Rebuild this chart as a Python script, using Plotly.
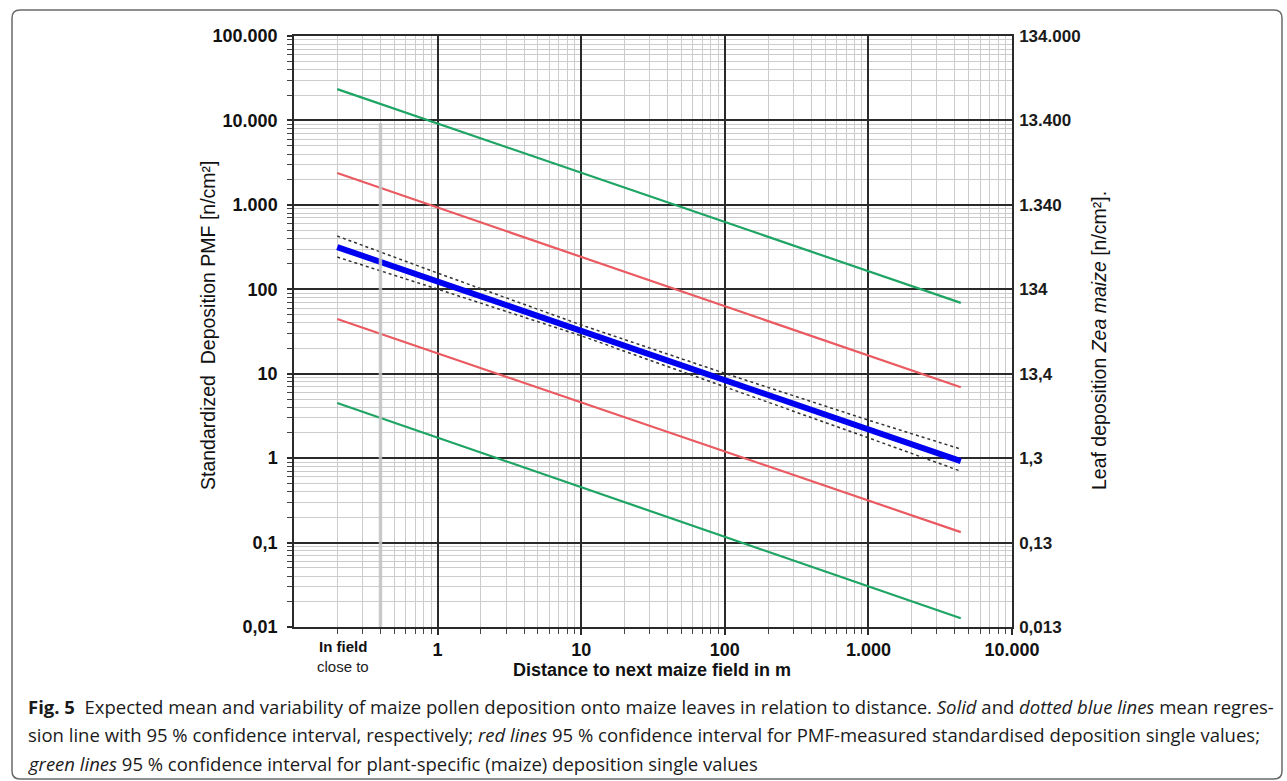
import plotly.graph_objects as go

# ---------------- data ----------------
x_ends = [0.2, 4400]                      # start / end distance of the lines (m)
green_upper = [23500, 69]
red_upper = [2380, 6.9]
mean_line = [316, 0.92]
red_lower = [44.4, 0.133]
green_lower = [4.5, 0.0127]

ci_x = [0.2, 1, 10, 100, 1000, 4400]
ci_upper = [427, 155.6, 37.8, 10.1, 2.82, 1.28]
ci_lower = [241, 100.5, 28.1, 7.06, 1.74, 0.70]

infield_x = [0.4, 0.4]
infield_y = [0.01, 9300]

x_tickvals = [1, 10, 100, 1000, 10000]
x_ticktext = ["1", "10", "100", "1.000", "10.000"]
y_tickvals = [0.01, 0.1, 1, 10, 100, 1000, 10000, 100000]
y_ticktext_left = ["0,01", "0,1", "1", "10", "100", "1.000", "10.000", "100.000"]
y_ticktext_right = ["0,013", "0,13", "1,3", "13,4", "134", "1.340", "13.400", "134.000"]

caption_lines = [
    "<b>Fig. 5</b>  Expected mean and variability of maize pollen deposition onto maize leaves in relation to distance. "
    "<i>Solid</i> and <i>dotted blue lines</i> mean regres-",
    "sion line with 95 % confidence interval, respectively; <i>red lines</i> 95 % confidence interval for PMF-measured "
    "standardised deposition single values;",
    "<i>green lines</i> 95 % confidence interval for plant-specific (maize) deposition single values",
]

# ---------------- layout helpers ----------------
W, H = 1287, 781
L, R, T, B = 294, 1012, 36, 627


def px(p):
    return (p - L) / (R - L)


def py(p):
    return (B - p) / (B - T)


x_minor = [k * d for d in [0.1, 1, 10, 100, 1000] for k in range(2, 10)]
y_minor = [k * d for d in [0.01, 0.1, 1, 10, 100, 1000, 10000] for k in range(2, 10)]

GREEN = "#1ea463"
RED = "#ea5a60"
BLUE = "#0000f0"
MAJ = "#2a2a2a"
MIN = "#cccccc"
FONT = "Liberation Sans, Arial, sans-serif"

fig = go.Figure()
for yv, col in [(green_upper, GREEN), (red_upper, RED), (red_lower, RED), (green_lower, GREEN)]:
    fig.add_trace(go.Scatter(x=x_ends, y=yv, mode="lines", line=dict(color=col, width=2.2),
                             showlegend=False, hoverinfo="skip"))
fig.add_trace(go.Scatter(x=ci_x, y=ci_upper, mode="lines", line=dict(color="#333333", width=1.5, dash="dot"),
                         showlegend=False, hoverinfo="skip"))
fig.add_trace(go.Scatter(x=ci_x, y=ci_lower, mode="lines", line=dict(color="#333333", width=1.5, dash="dot"),
                         showlegend=False, hoverinfo="skip"))
fig.add_trace(go.Scatter(x=x_ends, y=mean_line, mode="lines", line=dict(color=BLUE, width=6),
                         showlegend=False, hoverinfo="skip"))
fig.add_trace(go.Scatter(x=infield_x, y=infield_y, mode="lines", line=dict(color="#c4c4c4", width=3.5),
                         opacity=0.85, showlegend=False, hoverinfo="skip"))
# invisible trace so the right axis is bound to data
fig.add_trace(go.Scatter(x=[1], y=[1], yaxis="y2", mode="markers", marker=dict(opacity=0),
                         showlegend=False, hoverinfo="skip"))

fig.update_layout(
    width=W, height=H,
    margin=dict(l=L, r=W - R, t=T, b=H - B),
    paper_bgcolor="white", plot_bgcolor="white",
    font=dict(family=FONT, color="#111111"),
    xaxis=dict(
        type="log", range=[-1, 4], tickmode="array", tickvals=x_tickvals, ticktext=x_ticktext,
        tickfont=dict(size=18, family=FONT, weight="bold", color="#111111"),
        showgrid=True, gridcolor=MAJ, gridwidth=1.5,
        showline=True, linecolor=MAJ, linewidth=1.5, mirror=True,
        ticks="outside", ticklen=6, tickcolor=MAJ, tickwidth=1.5, ticklabelstandoff=0,
        minor=dict(tickmode="array", tickvals=x_minor, showgrid=True, gridcolor=MIN, gridwidth=1,
                   ticks="outside", ticklen=5, tickcolor="#444444", tickwidth=1),
        zeroline=False, layer="below traces",
    ),
    yaxis=dict(
        type="log", range=[-2, 5], tickmode="array", tickvals=y_tickvals, ticktext=y_ticktext_left,
        tickfont=dict(size=18, family=FONT, weight="bold", color="#111111"),
        showgrid=True, gridcolor=MAJ, gridwidth=1.5,
        showline=True, linecolor=MAJ, linewidth=1.5,
        ticks="outside", ticklen=5, tickcolor=MAJ, tickwidth=1.5, ticklabelstandoff=6,
        minor=dict(tickmode="array", tickvals=y_minor, showgrid=True, gridcolor=MIN, gridwidth=1,
                   ticks="outside", ticklen=5, tickcolor="#444444", tickwidth=1),
        zeroline=False, layer="below traces",
    ),
    yaxis2=dict(
        type="log", range=[-2, 5], overlaying="y", side="right", anchor="x",
        tickmode="array", tickvals=y_tickvals, ticktext=y_ticktext_right,
        tickfont=dict(size=17, family=FONT, weight="bold", color="#1a1a1a"),
        showgrid=False, showline=True, linecolor=MAJ, linewidth=1.5, ticks="", ticklabelstandoff=2,
        zeroline=False,
    ),
)

ann = []


def add_text(x, y, text, size, family=FONT, angle=0, xa="center", color="#111111"):
    ann.append(dict(x=px(x), y=py(y), xref="paper", yref="paper", showarrow=False, textangle=angle,
                    xanchor=xa, yanchor="middle", align="left" if xa == "left" else "center",
                    text=text, font=dict(size=size, family=family, color=color)))


# axis titles
add_text(652, 670, "<b>Distance to next maize field in m</b>", 18)
add_text(208, 326, "Standardized  Deposition PMF [n/cm²]", 19.5, angle=-90)
add_text(1099, 341, "Leaf deposition <i>Zea maize</i> [n/cm²].", 19.5, angle=-90)
# "In field / close to"
add_text(343, 646, "<b>In field</b>", 15)
add_text(343, 666, "close to", 15, color="#222222")
# caption
for i, line in enumerate(caption_lines):
    add_text(26, 706 + 28.5 * i, line, 18.5, family="Open Sans, Noto Sans, sans-serif", xa="left",
             color="#1a1a1a")
fig.update_layout(annotations=ann)

# rounded frame around the figure
x0, x1, y0, y1, r = px(12), px(1282), py(10), py(779), 8
rx, ry = r / (R - L), r / (B - T)
path = (f"M {x0 + rx},{y0} L {x1 - rx},{y0} Q {x1},{y0} {x1},{y0 - ry} "
        f"L {x1},{y1 + ry} Q {x1},{y1} {x1 - rx},{y1} L {x0 + rx},{y1} "
        f"Q {x0},{y1} {x0},{y1 + ry} L {x0},{y0 - ry} Q {x0},{y0} {x0 + rx},{y0} Z")
fig.add_shape(type="path", path=path, xref="paper", yref="paper",
              line=dict(color="#6a6a6a", width=1.5), layer="below")

fig.write_html("out.html", config={"displayModeBar": False},
               post_script="document.body.style.margin='0px';document.body.style.overflow='hidden';")
